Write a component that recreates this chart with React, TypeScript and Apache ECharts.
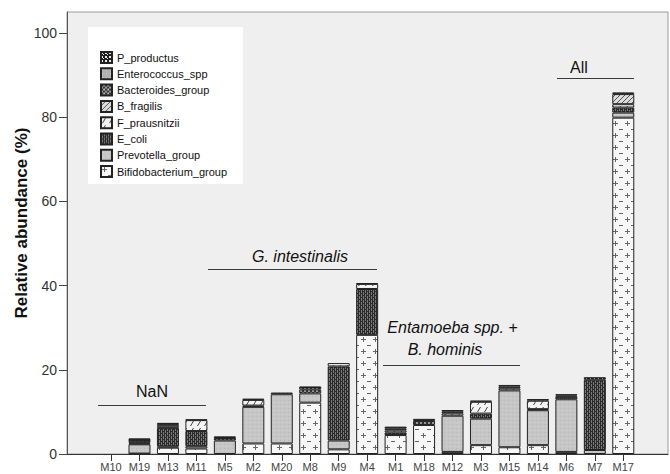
import React, { useEffect, useRef } from "react";
import * as echarts from "echarts";

const categories = ["M10", "M19", "M13", "M11", "M5", "M2", "M20", "M8", "M9", "M4", "M1", "M18", "M12", "M3", "M15", "M14", "M6", "M7", "M17"];

// stacked bottom -> top
const bifidobacterium = [0, 0.1, 1.5, 1.3, 0, 2.5, 2.5, 12.2, 1.1, 28.3, 4.5, 6.9, 0.5, 2.1, 1.6, 2.1, 0.5, 0, 79.9];
const prevotella = [0, 2.2, 0.3, 0.55, 3.2, 8.7, 11.7, 2.2, 2.1, 0, 0, 0, 8.6, 6.3, 13.5, 8.3, 12.5, 0.95, 1.2];
const eColi = [0, 0.2, 4.4, 3.6, 0, 0.3, 0, 0, 17.6, 10.9, 0.6, 0, 0, 1.2, 0, 0.25, 0.6, 16.7, 1.2];
const fPrausnitzii = [0, 0.3, 0.5, 2.6, 0, 1.35, 0, 0, 0.8, 1.2, 0.5, 0, 0.55, 2.8, 0.5, 2.0, 0, 0, 0.8];
const bFragilis = [0, 0, 0, 0, 0, 0, 0, 0, 0, 0, 0, 0, 0, 0, 0, 0, 0, 0, 2.4];
const bacteroides = [0, 0.5, 0.4, 0, 0.6, 0, 0, 0.95, 0, 0, 0.4, 0.95, 0.4, 0, 0.4, 0, 0, 0, 0];
const enterococcus = [0, 0.1, 0, 0, 0, 0, 0, 0, 0, 0, 0, 0, 0, 0, 0, 0, 0.3, 0, 0];
const pProductus = [0, 0.3, 0.3, 0.15, 0.4, 0.3, 0.4, 0.7, 0, 0.2, 0.5, 0.5, 0.4, 0.3, 0.4, 0.4, 0.3, 0.6, 0.4];

const seriesNames = ["Bifidobacterium_group", "Prevotella_group", "E_coli", "F_prausnitzii", "B_fragilis", "Bacteroides_group", "Enterococcus_spp", "P_productus"];
const seriesValues = [bifidobacterium, prevotella, eColi, fPrausnitzii, bFragilis, bacteroides, enterococcus, pProductus];

const yTicks = [0, 20, 40, 60, 80, 100];
const yMax = 105;

const FONT = '"Liberation Sans", Arial, Helvetica, sans-serif';

function pat(size: number, bg: string, draw: (g: CanvasRenderingContext2D) => void) {
  const c = document.createElement("canvas");
  c.width = size;
  c.height = size;
  const g = c.getContext("2d")!;
  g.fillStyle = bg;
  g.fillRect(0, 0, size, size);
  draw(g);
  return { image: c, repeat: "repeat", imageWidth: size, imageHeight: size } as any;
}

function makePatterns() {
  const bifido = pat(12, "#f7f7f7", (g) => {
    g.fillStyle = "#666";
    g.fillRect(1, 3, 5, 1);
    g.fillRect(3, 1, 1, 5);
    g.fillRect(7, 9, 4, 1);
  });
  const prevo = pat(4, "#c6c6c6", (g) => {
    g.fillStyle = "#b8b8b8";
    g.fillRect(0, 0, 1, 1);
    g.fillStyle = "#d2d2d2";
    g.fillRect(2, 2, 1, 1);
  });
  const ecoli = pat(4, "#7a7a7a", (g) => {
    g.fillStyle = "#2a2a2a";
    g.fillRect(0, 0, 1, 4);
    g.fillRect(2, 0, 1, 4);
    g.fillRect(1, 1, 1, 1);
    g.fillRect(3, 3, 1, 1);
  });
  const fpraus = pat(7, "#f3f3f3", (g) => {
    g.strokeStyle = "#444";
    g.lineWidth = 1;
    g.beginPath();
    g.moveTo(1.5, 6);
    g.lineTo(4.5, 1);
    g.stroke();
  });
  const bfrag = pat(5, "#dcdcdc", (g) => {
    g.strokeStyle = "#555";
    g.lineWidth = 1;
    g.beginPath();
    g.moveTo(0, 5);
    g.lineTo(5, 0);
    g.stroke();
  });
  const bact = pat(4, "#9a9a9a", (g) => {
    g.fillStyle = "#333";
    g.fillRect(0, 0, 2, 2);
    g.fillRect(2, 2, 2, 2);
    g.fillStyle = "#d8d8d8";
    g.fillRect(3, 0, 1, 1);
  });
  const entero = pat(4, "#b2b2b2", (g) => {
    g.fillStyle = "#d4d4d4";
    g.fillRect(1, 1, 1, 1);
  });
  const pprod = pat(4, "#1e1e1e", (g) => {
    g.fillStyle = "#e8e8e8";
    g.fillRect(0, 0, 2, 2);
    g.fillRect(2, 2, 1, 1);
  });
  return [bifido, prevo, ecoli, fpraus, bfrag, bact, entero, pprod];
}

export default function App() {
  const ref = useRef<HTMLDivElement>(null);
  useEffect(() => {
    document.body.style.margin = "0";
    if (!ref.current) return;
    const chart = echarts.init(ref.current, null, { renderer: "svg" });
    const patterns = makePatterns();

    const series = seriesNames.map((name, i) => ({
      name,
      type: "bar",
      stack: "total",
      xAxisIndex: 1,
      yAxisIndex: 1,
      barWidth: 22,
      data: seriesValues[i].map((v) => (v > 0 ? v : "-")),
      itemStyle: { color: patterns[i], borderColor: "#222", borderWidth: 1 },
      emphasis: { disabled: true },
    }));

    const annText = (text: string, x: number, y: number, italic: boolean) => ({
      type: "text",
      x,
      y,
      silent: true,
      style: {
        text,
        align: "center",
        verticalAlign: "middle",
        font: `${italic ? "italic " : ""}16px ${FONT}`,
        fill: "#111",
      },
    });
    const annLine = (x1: number, x2: number, y: number) => ({
      type: "line",
      silent: true,
      shape: { x1, y1: y, x2, y2: y },
      style: { stroke: "#3a3a3a", lineWidth: 1 },
    });

    chart.setOption({
      animation: false,
      backgroundColor: "#ffffff",
      grid: [
        { left: 67, right: 2, top: 12, bottom: 20, show: true, backgroundColor: "#efefef", borderColor: "#9a9a9a", borderWidth: 1 },
        { left: 96.8, right: 32.5, top: 12, bottom: 20 },
      ],
      xAxis: [
        {
          gridIndex: 0,
          type: "value",
          min: 0,
          max: 1,
          axisLine: { show: true, lineStyle: { color: "#333", width: 1 } },
          axisTick: { show: false },
          axisLabel: { show: false },
          splitLine: { show: false },
        },
        {
          gridIndex: 1,
          type: "category",
          data: categories,
          axisLine: { show: false },
          axisTick: { show: true, alignWithLabel: true, interval: 0, length: 7, lineStyle: { color: "#333" } },
          axisLabel: { interval: 0, fontSize: 11, color: "#444", margin: 7, fontFamily: FONT },
          splitLine: { show: false },
        },
      ],
      yAxis: [
        {
          gridIndex: 0,
          type: "value",
          min: 0,
          max: yMax,
          axisLine: { show: true, lineStyle: { color: "#555" } },
          axisTick: { show: true, length: 8, customValues: yTicks, lineStyle: { color: "#444" } },
          axisLabel: { customValues: yTicks, fontSize: 14, color: "#333", margin: 10, fontFamily: FONT },
          splitLine: { show: false },
        },
        { gridIndex: 1, type: "value", min: 0, max: yMax, show: false },
      ],
      legend: {
        data: seriesNames.slice().reverse(),
        orient: "vertical",
        left: 88,
        top: 27,
        backgroundColor: "#ffffff",
        padding: [24, 16, 6, 12],
        itemWidth: 11,
        itemHeight: 11,
        itemGap: 3.3,
        itemTextGap: 3,
        icon: "rect",
        selectedMode: false,
        textStyle: { fontSize: 11, lineHeight: 11, color: "#111", fontFamily: FONT },
      },
      graphic: [
        {
          type: "text",
          x: 163,
          y: 40.5,
          silent: true,
          style: { text: "legend", align: "center", verticalAlign: "middle", font: `12.5px ${FONT}`, fill: "#111" },
        },
        {
          type: "text",
          x: 21,
          y: 223,
          rotation: Math.PI / 2,
          silent: true,
          style: { text: "Relative abundance (%)", align: "center", verticalAlign: "middle", font: `bold 17px ${FONT}`, fill: "#111" },
        },
        annText("NaN", 152, 391, false),
        annLine(98, 206, 405.5),
        annText("G. intestinalis", 300, 256, true),
        annLine(208, 377, 269.5),
        annText("Entamoeba spp. +", 452.5, 327, true),
        annText("B. hominis", 445, 349, true),
        annLine(383, 520, 365.5),
        annText("All", 579, 67, false),
        annLine(557, 634, 78.5),
      ],
      series,
    });
    return () => chart.dispose();
  }, []);
  return <div ref={ref} style={{ width: 670, height: 474 }} />;
}
